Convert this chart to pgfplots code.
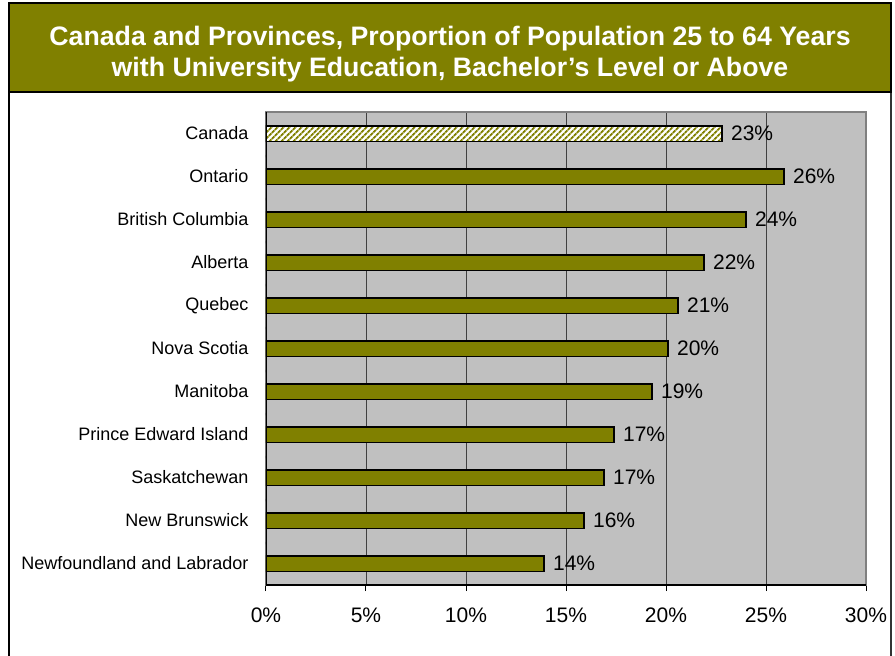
\documentclass[border=0pt]{standalone}
\usepackage{pgfplots}
\pgfplotsset{compat=1.18}
\usetikzlibrary{patterns.meta}
\usepackage{fontspec}
\setmainfont{Liberation Sans}
\definecolor{olivebar}{RGB}{128,128,0}
\definecolor{plotbg}{RGB}{192,192,192}
\begin{document}
\begin{tikzpicture}[x=1pt,y=1pt]
\path[use as bounding box] (0,0) rectangle (895,-656);
\fill[white] (0,0) rectangle (895,-656);
\draw[black, line width=1.2pt] (9,-92) -- (9,-660);
\draw[black!80, line width=1.2pt] (891,-92) -- (891,-660);
\draw[black, line width=1.5pt, fill=olivebar] (9,-3) rectangle (891,-92);
\node[text=white, font=\fontsize{26.7}{31}\selectfont\bfseries, align=center, inner sep=0pt] at (450,-54.5) {Canada and Provinces, Proportion of Population 25 to 64 Years\\with University Education, Bachelor’s Level or Above};
\begin{axis}[
  at={(266pt,-585pt)}, anchor=south west,
  scale only axis, width=600pt, height=473pt,
  xmin=0, xmax=30, ymin=-0.5, ymax=10.5, y dir=reverse,
  axis background/.style={fill=plotbg},
  axis line style={draw=black!50, line width=1.5pt},
  xtick={0,5,...,30},
  xticklabel={\pgfmathprintnumber{\tick}\%},
  /pgf/number format/assume math mode=true,
  xtick pos=lower, ytick pos=left,
  tick align=outside, major tick length=6pt,
  xtick style={black, line width=1pt},
  ytick style={draw=none},
  ytick={0,...,10},
  yticklabels={Canada, Ontario, British Columbia, Alberta, Quebec, Nova Scotia, Manitoba, Prince Edward Island, Saskatchewan, New Brunswick, Newfoundland and Labrador},
  xticklabel style={font=\fontsize{21}{25}\selectfont, yshift=-13pt},
  yticklabel style={font=\fontsize{18}{21}\selectfont, xshift=-8pt},
  xmajorgrids,
  grid style={black!75, line width=0.8pt},
  point meta=x,
  nodes near coords={\pgfmathprintnumber[fixed,precision=0]{\pgfplotspointmeta}\%},
  every node near coord/.append style={font=\fontsize{21}{25}\selectfont, text=black, anchor=west, xshift=5pt},
]
\addplot[xbar, bar shift=0pt, bar width=15.5pt, draw=black, line width=1.5pt, fill=white,
  postaction={pattern color=olivebar, pattern={Lines[angle=45,distance=4pt,line width=2pt]}}]
  coordinates {(22.8,0)};
\addplot[xbar, bar shift=0pt, bar width=15.5pt, draw=black, line width=1.5pt, fill=olivebar]
  coordinates {(25.9,1) (24.0,2) (21.9,3) (20.6,4) (20.1,5) (19.3,6) (17.4,7) (16.9,8) (15.9,9) (13.9,10)};
\draw[black, line width=1.2pt] (axis cs:0,-0.5) -- (axis cs:0,10.5);
\draw[black, line width=1.2pt] (axis cs:0,10.5) -- (axis cs:30,10.5);
\pgfplotsinvokeforeach{-0.5,0.5,1.5,2.5,3.5,4.5,5.5,6.5,7.5,8.5,9.5,10.5}{
  \draw[black, line width=1pt] (axis cs:0,#1) -- ++(-7pt,0);
}
\end{axis}
\end{tikzpicture}
\end{document}
